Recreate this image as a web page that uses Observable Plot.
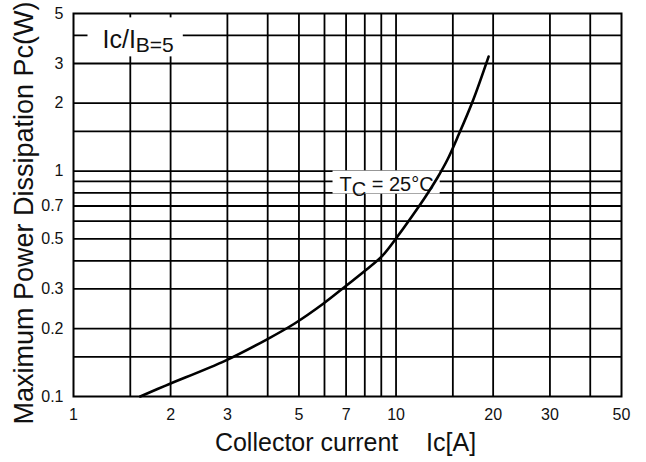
<!DOCTYPE html>
<html>
<head>
<meta charset="utf-8">
<script src="https://cdn.jsdelivr.net/npm/d3@7"></script>
<script src="https://cdn.jsdelivr.net/npm/@observablehq/plot@0.6"></script>
<style>
  html, body { margin: 0; padding: 0; background: #fff; }
</style>
</head>
<body>
<script>
// Curve: Tc = 25°C, Ic/IB = 5  (collector current in A, max power dissipation in W)
const currentA = [1.61, 1.93, 2.96, 3.97, 4.85, 5.96, 7.02, 8.10, 9.08, 10.1, 11.25, 12.35, 13.45, 14.44, 15.5, 17.27, 19.36];
const powerW   = [0.1, 0.1118, 0.1443, 0.1789, 0.2108, 0.2585, 0.3107, 0.3658, 0.4219, 0.5125, 0.6351, 0.7711, 0.9363, 1.125, 1.409, 2.035, 3.22];

// Grid and ticks
const xGrid = [1.5, 2, 3, 4, 5, 6, 7, 8, 9, 10, 15, 20, 30, 40];
const yGrid = [0.15, 0.2, 0.3, 0.4, 0.5, 0.6, 0.7, 0.8, 0.9, 1, 1.5, 2, 3, 4];
const xTicks = [1, 2, 3, 5, 7, 10, 20, 30, 50];
const yTicks = [0.1, 0.2, 0.3, 0.5, 0.7, 1, 2, 3, 5];

// Labels
const xLabel = "Collector current\u00a0\u00a0\u00a0 Ic[A]";
const yLabel = "Maximum Power Dissipation Pc(W)";
const noteRatio = ["Ic/I", "B=5"];
const noteTemp = ["T", "C", " = 25°C"];
const noteX = [1.23, 6.68];
const noteY = [3.8, 0.875];

const ink = "#111";

const chart = Plot.plot({
  width: 646,
  height: 462,
  marginLeft: 73,
  marginRight: 25,
  marginTop: 13,
  marginBottom: 66,
  style: { fontFamily: "'Liberation Sans', Arial, sans-serif", background: "#fff", color: ink },
  x: { type: "log", domain: [1, 50], axis: null },
  y: { type: "log", domain: [0.1, 5], axis: null },
  marks: [
    Plot.ruleX(xGrid, { stroke: "#000", strokeWidth: 1.8 }),
    Plot.ruleY(yGrid, { stroke: "#000", strokeWidth: 1.8 }),
    Plot.frame({ stroke: "#000", strokeWidth: 2 }),
    // tick labels
    Plot.text(xTicks, { x: d => d, frameAnchor: "bottom", lineAnchor: "top", dy: 12, text: d => String(d), fontSize: 16, fill: ink }),
    Plot.text(yTicks, { y: d => d, frameAnchor: "left", textAnchor: "end", lineAnchor: "middle", dx: -10, text: d => String(d), fontSize: 16, fill: ink }),
    // annotations
    Plot.text([noteRatio.join("")], { x: [noteX[0]], y: [noteY[0]], text: d => d, textAnchor: "start", fontSize: 25, fill: ink }),
    Plot.text([noteTemp.join("")], { x: [noteX[1]], y: [noteY[1]], text: d => d, textAnchor: "start", fontSize: 20, fill: ink }),
    // curve
    Plot.line(powerW, { x: currentA, y: powerW, curve: "catmull-rom", stroke: "#000", strokeWidth: 2.6 }),
    // axis titles
    Plot.text([xLabel], { frameAnchor: "bottom", textAnchor: "middle", lineAnchor: "middle", dy: 46, dx: -2, text: d => d, fontSize: 25, fill: ink }),
    Plot.text([yLabel], { frameAnchor: "left", textAnchor: "middle", lineAnchor: "middle", rotate: -90, dx: -49, dy: 8, text: d => d, fontSize: 27, fill: ink })
  ]
});

document.body.append(chart);

const svg = d3.select(chart);

function decorate(content, parts, pad) {
  const t = svg.selectAll("text").filter(function () { return this.textContent === content; });
  if (t.empty()) return;
  const node = t.node();
  t.text(null);
  parts.forEach(p => {
    const s = t.append("tspan").text(p.text);
    if (p.size) s.attr("font-size", p.size);
    if (p.dy) s.attr("dy", p.dy);
  });
  const b = node.getBBox();
  const r = d3.select(node.parentNode).insert("rect", () => node)
    .attr("x", b.x - pad[0])
    .attr("y", b.y - pad[1])
    .attr("width", b.width + pad[0] + pad[2])
    .attr("height", b.height + pad[1] + pad[3])
    .attr("fill", "#fff");
  const tr = t.attr("transform");
  if (tr) r.attr("transform", tr);
}

decorate(noteRatio.join(""),
  [{ text: noteRatio[0] }, { text: noteRatio[1], size: 21, dy: 4 }],
  [15, 8, 9, 0]);
decorate(noteTemp.join(""),
  [{ text: noteTemp[0] }, { text: noteTemp[1], dy: 5 }, { text: noteTemp[2], dy: -5 }],
  [7, 2, 6, -6]);
</script>
</body>
</html>
